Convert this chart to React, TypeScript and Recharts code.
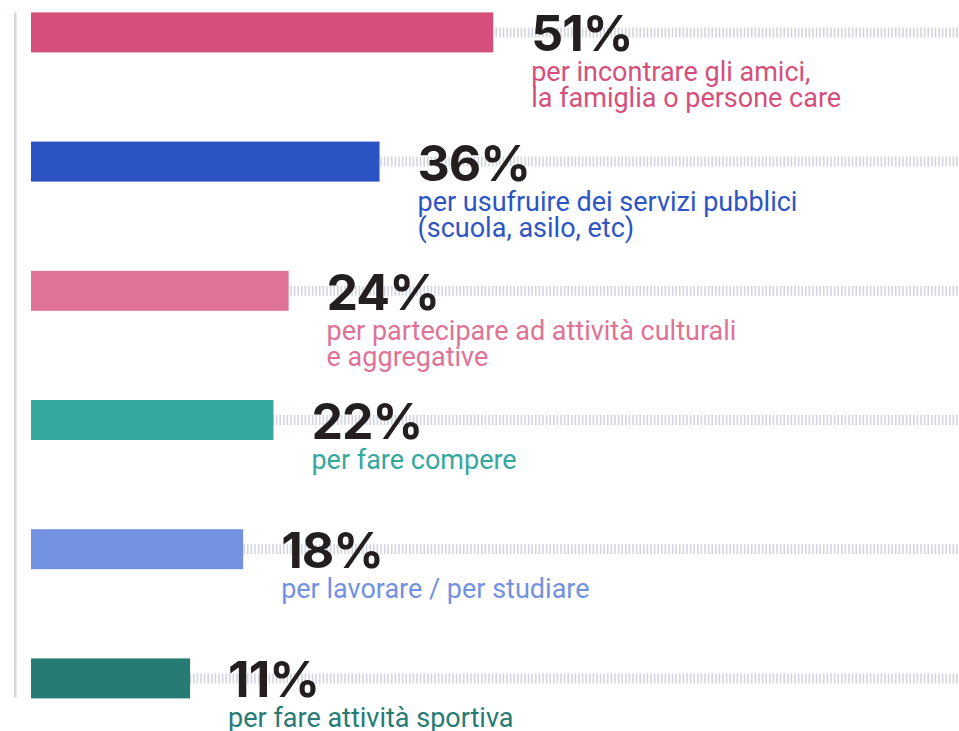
import { BarChart, Bar, XAxis, YAxis, LabelList } from "recharts";

// share of respondents, by reason for going out in the neighbourhood
const KEYS = ["amici", "servizi", "cultura", "compere", "lavoro", "sport"];
const VALUES = [51, 36, 24, 22, 18, 11];
const DESCRIPTIONS = [
  ["per incontrare gli amici,", "la famiglia o persone care"],
  ["per usufruire dei servizi pubblici", "(scuola, asilo, etc)"],
  ["per partecipare ad attività culturali", "e aggregative"],
  ["per fare compere"],
  ["per lavorare / per studiare"],
  ["per fare attività sportiva"],
];
const BAR_COLORS = ["#d4507a", "#2b54c2", "#de7396", "#35a89e", "#7391e1", "#267c75"];
const TEXT_COLORS = ["#d4507a", "#2e55c4", "#de7396", "#35a89e", "#7391e1", "#267c75"];

// bars start from a floor below zero, like the original graphic
const BASE = -10;
const X_DOMAIN = [BASE, 120];

const FONT = "Roboto, 'Liberation Sans', sans-serif";
const NUM_FONT = "Inter, Roboto, sans-serif";
const TRACK = "#d3d6e2";

const rows = KEYS.map((key, i) => ({ key, value: VALUES[i] }));

function BarWithTrack(props: any) {
  const { x, y, width, height, index, background } = props;
  const cy = y + height / 2;
  const end = background ? background.x + background.width : x + 2000;
  return (
    <g>
      <line
        x1={x}
        x2={end}
        y1={cy}
        y2={cy}
        stroke={TRACK}
        strokeWidth={10}
        strokeDasharray="1.6 2"
      />
      <rect x={x} y={y} width={width} height={height} fill={BAR_COLORS[index]} />
    </g>
  );
}

function ValueLabel(props: any) {
  const { x, y, width, height, index } = props;
  const tx = x + width + 38;
  const cy = y + height / 2;
  return (
    <g>
      <text
        x={tx}
        y={cy + 19}
        fill="#231f20"
        fontFamily={NUM_FONT}
        fontWeight={700}
        fontSize={50}
        letterSpacing={-1}
      >
        {VALUES[index]}%
      </text>
      {DESCRIPTIONS[index].map((line, j) => (
        <text
          key={j}
          x={tx}
          y={cy + 49 + j * 26}
          fill={TEXT_COLORS[index]}
          fontFamily={FONT}
          fontSize={27}
        >
          {line}
        </text>
      ))}
    </g>
  );
}

export default function App() {
  return (
    <div
      style={{
        position: "absolute",
        left: 0,
        top: 0,
        width: 959,
        height: 731,
        overflow: "hidden",
        background: "#fff",
      }}
    >
      <BarChart
        layout="vertical"
        width={1016}
        height={731}
        data={rows}
        margin={{ top: 12.5, right: 0, bottom: 33.5, left: 0 }}
      >
        <XAxis type="number" domain={X_DOMAIN} hide height={0} padding={{ left: 15.7, right: 0 }} />
        <YAxis
          type="category"
          dataKey="key"
          width={15.3}
          tick={false}
          tickLine={false}
          axisLine={{ stroke: TRACK, strokeWidth: 2.5 }}
          padding={{ top: -45.1, bottom: -45.1 }}
        />
        <Bar
          dataKey={(d: any) => [BASE, d.value]}
          barSize={40}
          shape={<BarWithTrack />}
          isAnimationActive={false}
        >
          <LabelList content={<ValueLabel />} />
        </Bar>
      </BarChart>
    </div>
  );
}
